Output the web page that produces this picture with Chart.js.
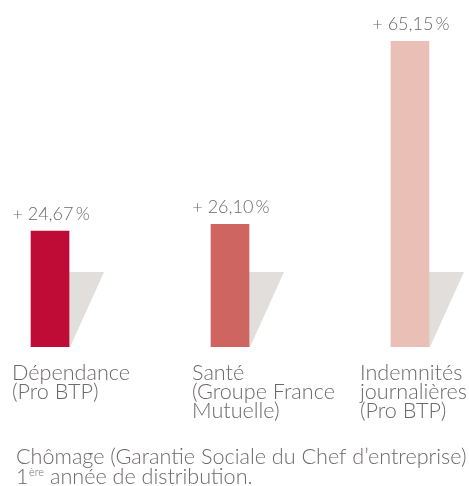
<!DOCTYPE html>
<html><head><meta charset="utf-8">
<script src="https://cdn.jsdelivr.net/npm/chart.js@4/dist/chart.umd.min.js"></script>
<style>html,body{margin:0;padding:0;background:#fff}#wrap{position:relative;width:469px;height:486px}</style>
</head><body><div id="wrap"><canvas id="c"></canvas></div>
<script>
// ---- data ----
const categories = [
  ['Dépendance', '(Pro BTP)'],
  ['Santé', '(Groupe France', 'Mutuelle)'],
  ['Indemnités', 'journalières', '(Pro BTP)']
];
const values = [24.67, 26.10, 65.15];
const barColors = ['#bf0c37', '#cf6561', '#eabfb5'];
const footerLine1 = 'Chômage (Garantie Sociale du Chef d’entreprise)';
const footerLine2 = ['1', 'ère', ' année de distribution.'];

const TEXT = '#6e6968';
const FONT = 'Lato';

function fmt(v) { return '+ ' + v.toFixed(2).replace('.', ',') + '\u2009%'; }

const shadowPlugin = {
  id: 'shadow',
  beforeDatasetsDraw(chart) {
    const ctx = chart.ctx;
    ctx.save();
    ctx.fillStyle = '#e1dedb';
    chart.getDatasetMeta(0).data.forEach(bar => {
      const r = bar.x + bar.width / 2, b = bar.base;
      ctx.beginPath();
      ctx.moveTo(r, b - 75);
      ctx.lineTo(r + 35, b - 75);
      ctx.lineTo(r + 1, b);
      ctx.lineTo(r, b);
      ctx.closePath();
      ctx.fill();
    });
    ctx.restore();
  }
};

const textPlugin = {
  id: 'texts',
  afterDraw(chart) {
    const ctx = chart.ctx;
    const area = chart.chartArea;
    const bars = chart.getDatasetMeta(0).data;
    ctx.save();
    ctx.fillStyle = TEXT;
    // value labels
    ctx.font = '300 18px ' + FONT;
    ctx.textAlign = 'center';
    ctx.textBaseline = 'alphabetic';
    bars.forEach((bar, i) => {
      ctx.fillText(fmt(values[i]), bar.x + 1, bar.y - 11);
    });
    // category labels
    ctx.font = '300 21.6px ' + FONT;
    ctx.textAlign = 'left';
    bars.forEach((bar, i) => {
      const lines = categories[i];
      const w = Math.max(...lines.map(l => ctx.measureText(l).width));
      const x = Math.min(bar.x - 38, chart.width - w - 2);
      lines.forEach((l, j) => ctx.fillText(l, x, area.bottom + 33 + j * 19));
    });
    // footer
    const fx = 16;
    ctx.fillText(footerLine1, fx, chart.height - 22);
    let x = fx;
    const by = chart.height - 2;
    ctx.fillText(footerLine2[0], x, by);
    x += ctx.measureText(footerLine2[0]).width + 0.5;
    ctx.font = '300 11px ' + FONT;
    ctx.fillText(footerLine2[1], x, by - 8);
    x += ctx.measureText(footerLine2[1]).width;
    ctx.font = '300 21.6px ' + FONT;
    ctx.fillText(footerLine2[2], x, by);
    ctx.restore();
  }
};

new Chart(document.getElementById('c'), {
  type: 'bar',
  data: {
    datasets: [{
      data: values.map((v, i) => ({ x: i, y: v })),
      backgroundColor: barColors,
      borderWidth: 0,
      barThickness: 38
    }]
  },
  options: {
    responsive: true,
    maintainAspectRatio: false,
    animation: false,
    layout: { padding: { top: 41, bottom: 139, left: 0, right: 0 } },
    plugins: { legend: { display: false }, tooltip: { enabled: false } },
    scales: {
      x: { type: 'linear', offset: false, min: -0.278, max: 2.328, display: false },
      y: { min: 0, max: Math.max(...values), display: false }
    }
  },
  plugins: [shadowPlugin, textPlugin]
});
</script></body></html>
